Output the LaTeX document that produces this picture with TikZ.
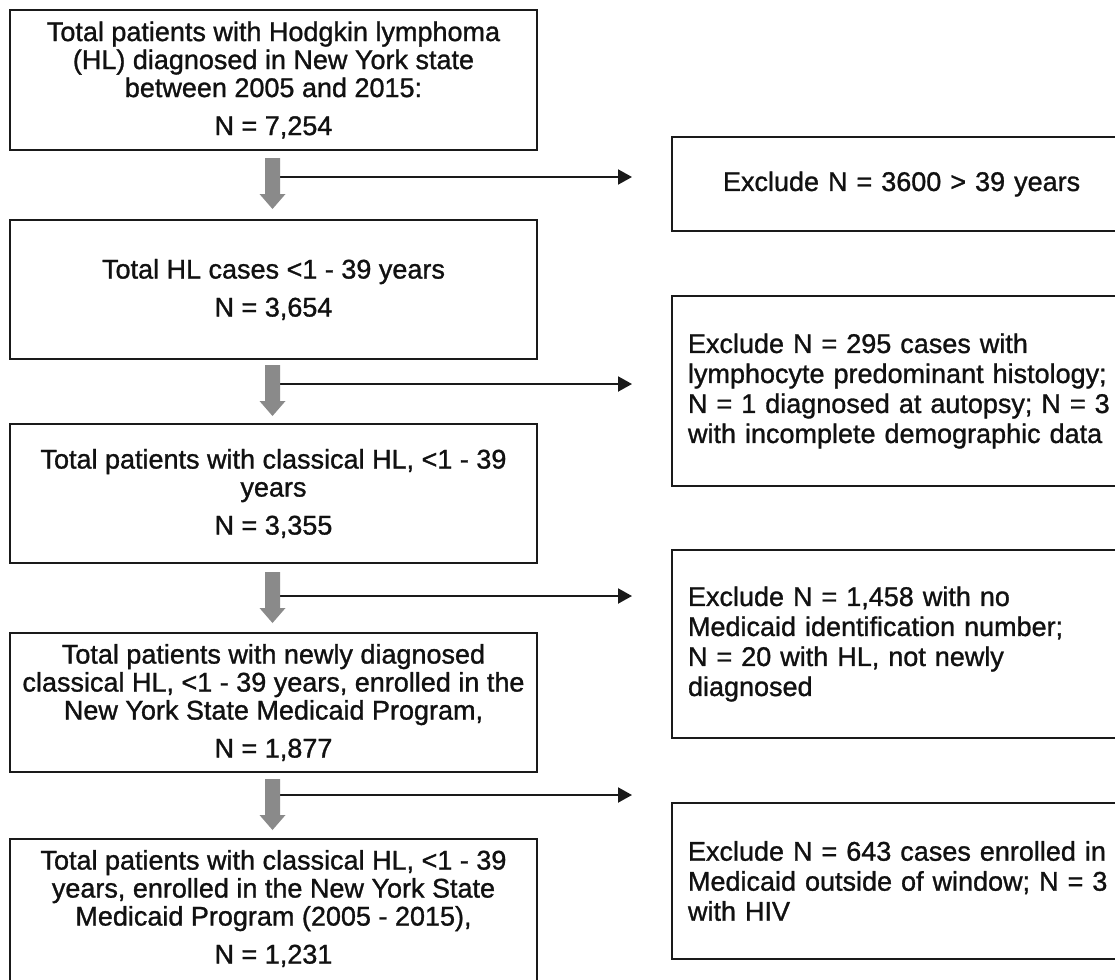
\documentclass[tikz,border=0pt]{standalone}
\usepackage{fontspec}
\setmainfont{Liberation Sans}[FakeBold=1.1]
\usetikzlibrary{arrows.meta}
\definecolor{arrowgray}{HTML}{8A8A8A}
\definecolor{linecol}{HTML}{1A1A1A}
\definecolor{textcol}{HTML}{111111}
\tikzset{
  leftbox/.style={draw=linecol, line width=2pt, minimum width=527pt, minimum height=139pt,
    inner sep=0pt, align=center, text=textcol, font=\fontsize{27}{28}\selectfont},
  plainbox/.style={draw=linecol, line width=2pt, inner sep=0pt},
  lefttext/.style={inner sep=0pt, align=center, text=textcol, font=\fontsize{27}{28}\selectfont},
  rightbox/.style={draw=linecol, line width=2pt, minimum width=470pt, inner sep=0pt,
    text width=438pt, align=left, text=textcol, font=\fontsize{27}{30}\selectfont},
  exarrow/.style={draw=linecol, line width=2pt, -{Triangle[length=14pt,width=15pt]}},
  grayarr/.style={fill=arrowgray, draw=none}
}
\newcommand{\grayarrow}[1]{%
  \fill[grayarr] (#1) ++(-7.5,0) -- ++(15,0) -- ++(0,36) -- ++(5.5,0) -- ++(-13,15)
    -- ++(-13,-15) -- ++(5.5,0) -- cycle;}
\begin{document}
\begin{tikzpicture}[x=1pt,y=-1pt]
\useasboundingbox[fill=white] (0,0) rectangle (1115,979);

% left column
\node[leftbox, minimum height=140pt] (b1) at (273.5,80)
  {Total patients with Hodgkin lymphoma\\(HL) diagnosed in New York state\\between 2005 and 2015:\\[10pt]N = 7,254};
\node[leftbox] (b2) at (273.5,289.5) {Total HL cases <1 - 39 years\\[10pt]N = 3,654};
\node[leftbox] (b3) at (273.5,493.5) {Total patients with classical HL, <1 - 39\\years\\[10pt]N = 3,355};
\node[leftbox] (b4) at (273.5,702.5)
  {Total patients with newly diagnosed\\classical HL, <1 - 39 years, enrolled in the\\New York State Medicaid Program,\\[10pt]N = 1,877};
\node[plainbox, minimum width=527pt, minimum height=152pt] (b5) at (273.5,915) {};
\node[lefttext] (b5t) at (273.5,908.5)
  {Total patients with classical HL, <1 - 39\\years, enrolled in the New York State\\Medicaid Program (2005 - 2015),\\[10pt]N = 1,231};

% right column
\node[rightbox, minimum height=94pt] (e1) at (907,184) {\hspace*{35pt}Exclude N = 3600 > 39 years};
\node[rightbox, minimum height=190pt] (e2) at (907,391)
  {Exclude N = 295 cases with\\lymphocyte predominant histology;\\N = 1 diagnosed at autopsy; N = 3\\with incomplete demographic data};
\node[rightbox, minimum height=188pt] (e3) at (907,644)
  {Exclude N = 1,458 with no\\Medicaid identification number;\\N = 20 with HL, not newly\\diagnosed};
\node[rightbox, minimum height=156pt] (e4) at (907,881)
  {Exclude N = 643 cases enrolled in\\Medicaid outside of window; N = 3\\with HIV};

% gray arrows anchors
\coordinate (g1) at (272.5,158);
\coordinate (g2) at (272.5,365);
\coordinate (g3) at (272.5,572);
\coordinate (g4) at (272.5,779);

% exclusion arrows
\coordinate (s1) at (272.5,177); \coordinate (t1) at (632,177);
\coordinate (s2) at (272.5,384); \coordinate (t2) at (632,384);
\coordinate (s3) at (272.5,596); \coordinate (t3) at (632,596);
\coordinate (s4) at (272.5,795); \coordinate (t4) at (632,795);
\draw[exarrow] (s1) -- (t1);
\draw[exarrow] (s2) -- (t2);
\draw[exarrow] (s3) -- (t3);
\draw[exarrow] (s4) -- (t4);

\grayarrow{g1}
\grayarrow{g2}
\grayarrow{g3}
\grayarrow{g4}
\end{tikzpicture}
\end{document}
